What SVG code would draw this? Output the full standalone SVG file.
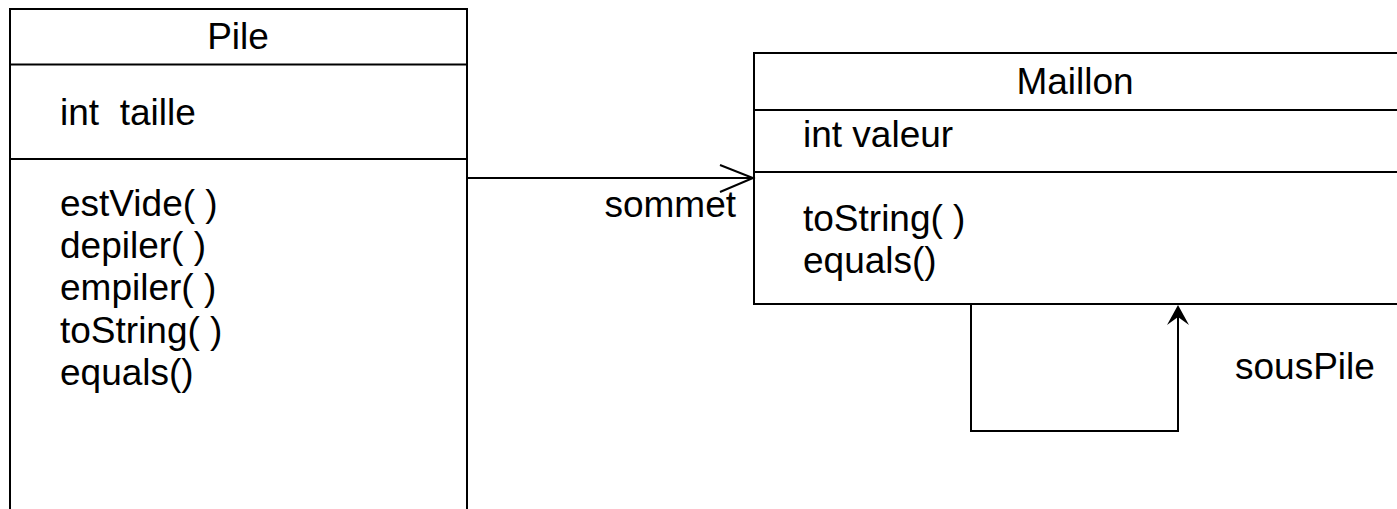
<svg xmlns="http://www.w3.org/2000/svg" width="1397" height="509" viewBox="0 0 1397 509">
<style>
  .box{fill:#fff;stroke:#000;stroke-width:2}
  .ln{stroke:#000;stroke-width:2;fill:none}
  .head{fill:#000;stroke:none}
  text{font-family:"Liberation Sans",Arial,sans-serif;font-size:37px;fill:#000}
  .c{text-anchor:middle}
</style>
<rect width="1397" height="509" fill="#fff"/>
<g id="pile">
  <rect class="box" x="10" y="9" width="457" height="520"/>
  <line class="ln" x1="10" y1="64.5" x2="467" y2="64.5"/>
  <line class="ln" x1="10" y1="159" x2="467" y2="159"/>
  <text class="c" x="238" y="49">Pile</text>
  <text x="60" y="125" xml:space="preserve">int  taille</text>
  <text x="60" y="216">estVide( )</text>
  <text x="60" y="258">depiler( )</text>
  <text x="60" y="300">empiler( )</text>
  <text x="60" y="343">toString( )</text>
  <text x="60" y="385">equals()</text>
</g>
<g id="maillon">
  <rect class="box" x="754" y="53" width="660" height="251"/>
  <line class="ln" x1="754" y1="110" x2="1397" y2="110"/>
  <line class="ln" x1="754" y1="172" x2="1397" y2="172"/>
  <text class="c" x="1075" y="94">Maillon</text>
  <text x="803" y="147">int valeur</text>
  <text x="803" y="231">toString( )</text>
  <text x="803" y="273">equals()</text>
</g>
<g id="connectors">
  <line class="ln" x1="467" y1="178" x2="753" y2="178"/>
  <polyline class="ln" points="720,165 753,178 720,192"/>
  <text x="736" y="217" style="text-anchor:end">sommet</text>
  <polyline class="ln" points="971,304 971,431 1178,431 1178,314"/>
  <path class="head" d="M1178,305 L1189,325 L1178,317 L1167,325 Z"/>
  <text x="1235" y="379">sousPile</text>
</g>
</svg>
